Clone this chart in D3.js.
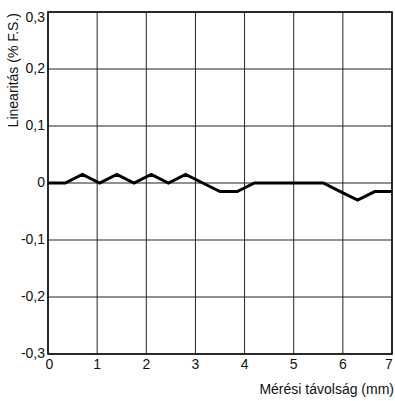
<!DOCTYPE html>
<html><head><meta charset="utf-8">
<script src="https://cdn.jsdelivr.net/npm/d3@7"></script>
<style>body{margin:0;background:#fff}svg{display:block}text{font-family:"Liberation Sans",Arial,sans-serif;fill:#111}</style>
</head><body>
<script>
const distances = [0,0.35,0.7,1.05,1.4,1.75,2.1,2.45,2.8,3.15,3.5,3.85,4.2,4.55,4.9,5.25,5.6,5.95,6.3,6.65,7];
const linearity = [0,0,0.015,0,0.015,0,0.015,0,0.015,0,-0.015,-0.015,0,0,0,0,0,-0.015,-0.03,-0.015,-0.015];
const xTicks = [0,1,2,3,4,5,6,7];
const yTicks = [-0.3,-0.2,-0.1,0,0.1,0.2,0.3];
const yTickLabels = ["-0,3","-0,2","-0,1","0","0,1","0,2","0,3"];
const xTitle = "Mérési távolság (mm)";
const yTitle = "Linearitás (% F.S.)";

const W=395,H=401, L=48,R=392,T=12,B=354;
const svg=d3.select("body").append("svg").attr("width",W).attr("height",H);
const x=d3.scaleLinear().domain([0,7]).range([L,R]);
const y=d3.scaleLinear().domain([-0.3,0.3]).range([B,T]);

const g=svg.append("g");
g.selectAll(".vg").data(xTicks).join("line")
 .attr("x1",d=>x(d)).attr("x2",d=>x(d)).attr("y1",T).attr("y2",B)
 .attr("stroke","#222").attr("stroke-width",1);
g.selectAll(".hg").data(yTicks).join("line")
 .attr("y1",d=>y(d)).attr("y2",d=>y(d)).attr("x1",L).attr("x2",R)
 .attr("stroke","#222").attr("stroke-width",1);
svg.append("rect").attr("x",L).attr("y",T).attr("width",R-L).attr("height",B-T)
 .attr("fill","none").attr("stroke","#111").attr("stroke-width",1.6);

svg.append("g").selectAll("text").data(xTicks).join("text")
 .attr("x",d=>x(d)+(d===7?-3:(d===0?1.5:0))).attr("y",369).attr("text-anchor","middle")
 .attr("font-size",14).text(d=>d);
svg.append("g").selectAll("text").data(yTicks).join("text")
 .attr("x",45).attr("y",(d,i)=>y(d)+(d===0.3?10:4)).attr("text-anchor","end")
 .attr("font-size",14).text((d,i)=>yTickLabels[i]);

svg.append("text").attr("x",394).attr("y",394).attr("text-anchor","end").attr("font-size",14).text(xTitle);
svg.append("text").attr("transform","translate(17.5,13) rotate(-90)").attr("text-anchor","end").attr("font-size",14).text(yTitle);

const line=d3.line().x((d,i)=>x(distances[i])).y(d=>y(d));
svg.append("path").datum(linearity).attr("d",line).attr("fill","none")
 .attr("stroke","#000").attr("stroke-width",3).attr("stroke-linejoin","miter");
</script>
</body></html>
